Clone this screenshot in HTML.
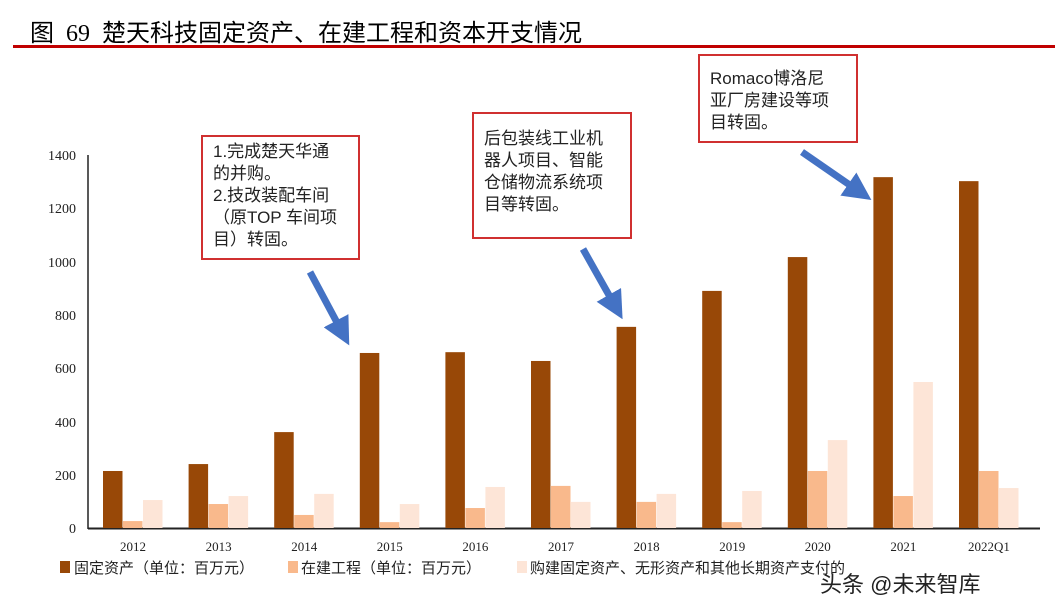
<!DOCTYPE html>
<html><head><meta charset="utf-8"><style>
body{margin:0;background:#fff;width:1055px;height:613px;overflow:hidden;font-family:"Liberation Serif","Noto Serif CJK SC",serif}
.box{position:absolute;border:2px solid #d03030;background:#fff;font-family:"Liberation Sans","Noto Sans CJK SC",sans-serif;font-size:17px;line-height:22px;color:#222;padding:4px 0 0 10px;box-sizing:border-box}
</style></head><body>
<div style="position:absolute;left:30px;top:13px;font-size:24px;font-family:'Liberation Serif','Noto Sans CJK SC',sans-serif;color:#000;white-space:pre">图  69  楚天科技固定资产、在建工程和资本开支情况</div>
<div style="position:absolute;left:13px;right:0;top:45px;height:3px;background:#c00000"></div>
<svg width="1055" height="613" style="position:absolute;left:0;top:0">
<g font-size="14" fill="#222" text-anchor="end" font-family="Liberation Serif,serif">
<text x="76" y="533">0</text><text x="76" y="480">200</text><text x="76" y="427">400</text><text x="76" y="373">600</text><text x="76" y="320">800</text><text x="76" y="267">1000</text><text x="76" y="213">1200</text><text x="76" y="160">1400</text>
</g>
<line x1="88" y1="155" x2="88" y2="529" stroke="#222" stroke-width="1.5"/>
<line x1="88" y1="528.5" x2="1040" y2="528.5" stroke="#222" stroke-width="2"/>
<g id="bars"></g>
<g font-size="13" fill="#222" text-anchor="middle" id="xl"></g>
<defs><marker id="ah" markerWidth="4" markerHeight="4" refX="1.5" refY="2" orient="auto"><path d="M0,0 L4,2 L0,4Z" fill="#4472c4"/></marker></defs>
<g stroke="#4472c4" stroke-width="7" marker-end="url(#ah)" fill="none">
<line x1="310" y1="272" x2="341" y2="330"/>
<line x1="583" y1="249" x2="614" y2="304"/>
<line x1="802" y1="152" x2="857" y2="190"/>
</g>
<g font-size="15" fill="#222" font-family="Liberation Sans,Noto Sans CJK SC,sans-serif">
<rect x="60" y="561" width="10" height="12" fill="#984807"/><text x="74" y="573">固定资产（单位：百万元）</text>
<rect x="288" y="561" width="10" height="12" fill="#f9b98c"/><text x="301" y="573">在建工程（单位：百万元）</text>
<rect x="517" y="561" width="10" height="12" fill="#fde5d7"/><text x="530" y="573">购建固定资产、无形资产和其他长期资产支付的</text>
</g>
<text x="820" y="592" font-size="22" fill="#222" font-family="Liberation Sans,Noto Sans CJK SC,sans-serif">头条 @未来智库</text>
</svg>
<div class="box" style="left:201px;top:135px;width:159px;height:125px">1.完成楚天华通<br>的并购。<br>2.技改装配车间<br>（原TOP 车间项<br>目）转固。</div>
<div class="box" style="left:472px;top:112px;width:160px;height:127px;padding-top:14px">后包装线工业机<br>器人项目、智能<br>仓储物流系统项<br>目等转固。</div>
<div class="box" style="left:698px;top:54px;width:160px;height:89px;padding-top:12px">Romaco博洛尼<br>亚厂房建设等项<br>目转固。</div>
<script>
var d=[[214,26,105],[240,90,120],[360,49,128],[657,22,90],[660,75,154],[627,158,98],[755,98,128],[890,22,139],[1017,214,330],[1317,120,548],[1302,214,150]];
var L=['2012','2013','2014','2015','2016','2017','2018','2019','2020','2021','2022Q1'];
var c=['#984807','#f9b98c','#fde5d7'],s='',t='';
d.forEach(function(v,i){var cx=133+i*85.6;v.forEach(function(y,j){var h=y*0.2664;s+='<rect x="'+(cx-30+j*20)+'" y="'+(528-h)+'" width="19.5" height="'+h+'" fill="'+c[j]+'"/>';});t+='<text x="'+cx+'" y="551">'+L[i]+'</text>';});
document.getElementById('bars').innerHTML=s;document.getElementById('xl').innerHTML=t;
</script>
</body></html>
